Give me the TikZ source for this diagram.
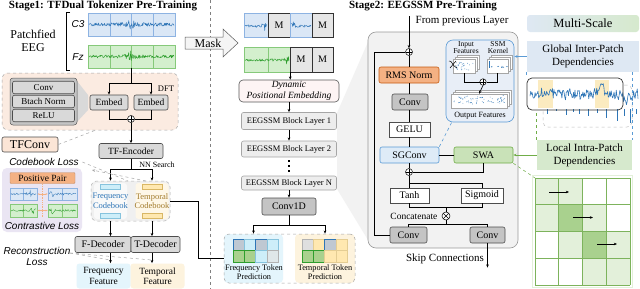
\documentclass[tikz,border=0pt]{standalone}
\usepackage{fontspec}
\setmainfont{Liberation Serif}
\setsansfont{Liberation Sans}
\usetikzlibrary{arrows.meta,calc}
\newcommand\fsz[1]{\fontsize{#1}{#1}\selectfont}
\definecolor{c3fill}{HTML}{DAE7F6}
\definecolor{c3line}{HTML}{2E75B6}
\definecolor{c3bord}{HTML}{8DB3E2}
\definecolor{fzfill}{HTML}{D3EFCD}
\definecolor{fzline}{HTML}{2E9E2E}
\definecolor{fzbord}{HTML}{86C97A}
\definecolor{peach}{HTML}{FBEBE1}
\definecolor{boxgray}{HTML}{D9D9D9}
\definecolor{boxdark}{HTML}{4D4D4D}
\definecolor{grpgray}{HTML}{C4C4C4}
\definecolor{lav}{HTML}{EAE5F3}
\definecolor{orng}{HTML}{F4B183}
\definecolor{orngb}{HTML}{D9804A}
\definecolor{ffeat}{HTML}{E4F5FC}
\definecolor{tfeat}{HTML}{FDF3DE}
\definecolor{fcode}{HTML}{2E75B6}
\definecolor{tcode}{HTML}{A27B2C}
\definecolor{fbar}{HTML}{CDEEF9}
\definecolor{fbarb}{HTML}{86C3DD}
\definecolor{tbar}{HTML}{FFE8B0}
\definecolor{tbarb}{HTML}{D9B765}
\definecolor{layer}{HTML}{EDEDED}
\definecolor{layerb}{HTML}{A6A6A6}
\definecolor{blk}{HTML}{F2F2F2}
\definecolor{blkb}{HTML}{9A9A9A}
\definecolor{sgc}{HTML}{DEEBF7}
\definecolor{sgcb}{HTML}{5B9BD5}
\definecolor{swa}{HTML}{C9E2B8}
\definecolor{swab}{HTML}{70AD47}
\definecolor{ssmreg}{HTML}{E8EEF7}
\definecolor{glob}{HTML}{DEE8F3}
\definecolor{loc}{HTML}{D6E9CD}
\definecolor{gl}{HTML}{E3F0DA}
\definecolor{gm}{HTML}{A9D18E}
\definecolor{gridb}{HTML}{7DB35C}
\definecolor{hl}{HTML}{FBEBC0}
\definecolor{dpe}{HTML}{FDF4F4}
\definecolor{tfconv}{HTML}{FBE5D6}
\definecolor{mgray}{HTML}{E6E6E6}
\definecolor{rmsb}{HTML}{C55A11}
\tikzset{
  arr/.style={-{Stealth[length=3.2pt,width=2.6pt]}},
  gbox/.style={draw=boxdark, fill=boxgray, rounded corners=2pt, inner sep=0pt, line width=0.6pt, font=\fsz{9.5}},
  dbox/.style={draw=boxdark, fill=grpgray, rounded corners=2pt, inner sep=0pt, line width=0.6pt, font=\fsz{9.5}},
  wbox/.style={draw=boxdark, fill=white, inner sep=0pt, line width=0.6pt, font=\fsz{10}},
  lbox/.style={draw=layerb, fill=layer, rounded corners=2pt, inner sep=0pt, line width=0.6pt, font=\fsz{8.5}},
  sigb/.style 2 args={draw=#2, fill=#1, inner sep=0pt, line width=0.5pt},
  mbox/.style={draw=black!80, fill=mgray, inner sep=0pt, line width=0.5pt, font=\fsz{10}},
  opl/.style={circle, draw, fill=white, minimum size=7pt, inner sep=0pt, line width=0.5pt,
    path picture={\draw[line width=0.5pt] (path picture bounding box.north) -- (path picture bounding box.south) (path picture bounding box.west) -- (path picture bounding box.east);}},
  otm/.style={circle, draw, fill=white, minimum size=8pt, inner sep=0pt, line width=0.5pt,
    path picture={\draw[line width=0.5pt] (path picture bounding box.north west) -- (path picture bounding box.south east) (path picture bounding box.north east) -- (path picture bounding box.south west);}},
  sit/.style={font=\sffamily\itshape\fsz{10}},
  minib/.style={draw=gray!70, fill=white, inner sep=0pt, line width=0.4pt},
  wave/.style={line width=0.45pt, line join=round},
}
\begin{document}
\begin{tikzpicture}[x=1pt,y=-1pt,line width=0.6pt]
\useasboundingbox (0,0) rectangle (640,289);
\fill[white] (0,0) rectangle (640,289);
\pgfmathsetseed{11}

% ===== divider and titles
\draw[gray, dashed, line width=0.5pt] (210,0) -- (210,289);
\node[font=\bfseries\fsz{11}] (t1) at (103,6) {Stage1: TFDual Tokenizer Pre-Training};
\node[font=\bfseries\fsz{11}] (t2) at (423,6) {Stage2: EEGSSM Pre-Training};

% ===== Stage 1 : inputs
\node[font=\fsz{12}, align=center] (pe) at (33,41) {Patchfied\\[1pt]EEG};
\draw[line width=0.5pt] (70,12) -- (66,12) -- (66,70) -- (70,70);
\node[sit] (c3l) at (78,24) {C3};
\node[sit] (fzl) at (78,57) {Fz};
\node[sigb={c3fill}{c3bord}, minimum width=87pt, minimum height=23pt] (c3) at (131.5,24.5) {};
\node[sigb={fzfill}{fzbord}, minimum width=87pt, minimum height=23pt] (fz) at (131.5,56.5) {};
\foreach \xx in {110,131.5,153} {\draw[c3bord,line width=0.5pt] (\xx,13) -- (\xx,36); \draw[fzbord,line width=0.5pt] (\xx,45) -- (\xx,68);}
\draw[c3line,wave] plot[domain=89:174,samples=170] (\x,{24.5+(1.7+5/(1+(\x-131)*(\x-131)/5))*rand});
\draw[fzline,wave] plot[domain=89:174,samples=170] (\x,{56.5+(1.5+5/(1+(\x-131)*(\x-131)/5))*rand});

% ===== TFConv region
\node[draw=gray!70, dashed, fill=peach, rounded corners=6pt, minimum width=176pt, minimum height=57pt, inner sep=0pt, line width=0.5pt] (tfr) at (90,101.5) {};
\fill[gray!30] (77,81) -- (88,95) -- (88,110) -- (77,122) -- cycle;
\node[draw=gray!70!black, fill=grpgray, rounded corners=3pt, minimum width=67pt, minimum height=47pt, inner sep=0pt, line width=0.5pt] (grp) at (43.5,101.5) {};
\node[gbox, minimum width=62pt, minimum height=12.5pt, font=\fsz{9}] (cv0) at (43.5,87.5) {Conv};
\node[gbox, minimum width=62pt, minimum height=12.5pt, font=\fsz{9}] (bn0) at (43.5,101.5) {Btach Norm};
\node[gbox, minimum width=62pt, minimum height=12.5pt, font=\fsz{9}] (rl0) at (43.5,115.5) {ReLU};
\node[gbox, minimum width=38pt, minimum height=15pt] (emb1) at (109,102.5) {Embed};
\node[gbox, minimum width=34pt, minimum height=15pt] (emb2) at (151,102.5) {Embed};
\draw (fz.south) -- ++(0,15) coordinate (s1);
\draw[arr] (s1) -| (emb1.north);
\draw[arr] (s1) -| (emb2.north);
\node[font=\fsz{8.5}] (dft) at (166,88.5) {DFT};
\node[opl] (op1) at (131,119) {};
\draw (emb1.south) |- (op1.west);
\draw (emb2.south) |- (op1.east);
\node[gbox, minimum width=64pt, minimum height=15pt] (tfe) at (131,151) {TF-Encoder};
\draw[arr] (op1.south) -- (tfe.north);
\node[draw=boxdark, fill=tfconv, rounded corners=2pt, minimum width=56pt, minimum height=15pt, inner sep=0pt, font=\fsz{12}] (tfcl) at (30,144.5) {TFConv};
\draw[gray!70, dashed, line width=0.5pt] (tfcl.east) -- (96,130);

% ===== codebook
\node[sit] (cbl) at (44,162) {Codebook Loss};
\node[font=\fsz{8}] (nn) at (157,165) {NN Search};
\node[draw=gray!60, dashed, fill=gray!12, rounded corners=6pt, minimum width=79pt, minimum height=40pt, inner sep=0pt, line width=0.5pt] (cbo) at (130.5,201) {};
\node[fill=gray!5, rounded corners=3pt, minimum width=33pt, minimum height=36pt, inner sep=0pt] (fcol) at (110.5,201) {};
\node[fill=tfeat!70, rounded corners=3pt, minimum width=33pt, minimum height=36pt, inner sep=0pt] (tcol) at (152,201) {};
\node[draw=fbarb, fill=fbar, minimum width=20pt, minimum height=5pt, inner sep=0pt, line width=0.4pt] (fb1) at (110.5,187) {};
\node[draw=fbarb, fill=fbar, minimum width=20pt, minimum height=5pt, inner sep=0pt, line width=0.4pt] (fb2) at (110.5,215.5) {};
\node[draw=tbarb, fill=tbar, minimum width=20pt, minimum height=5pt, inner sep=0pt, line width=0.4pt] (tb1) at (152,187) {};
\node[draw=tbarb, fill=tbar, minimum width=20pt, minimum height=5pt, inner sep=0pt, line width=0.4pt] (tb2) at (152,215.5) {};
\node[text=fcode, align=center, font=\fsz{8.5}] (fct) at (110.5,201) {Frequency\\[1pt]Codebook};
\node[text=tcode, align=center, font=\fsz{8.5}] (tct) at (152,201) {Temporal\\[1pt]Codebook};
\draw (tfe.south) -- ++(0,10) coordinate (s2);
\draw[arr] (s2) -| (fcol.north |- cbo.north);
\draw[arr] (s2) -| (tcol.north |- cbo.north);
\draw[gray!70, dashed, line width=0.5pt] (cbl.east) -- (128,181);
\draw[gray!70, dashed, line width=0.5pt, arr] (146,181) -- (92,170);

% ===== contrastive
\node[fill=lav, rounded corners=5pt, minimum width=80pt, minimum height=64pt, inner sep=0pt] (lavr) at (42,200) {};
\node[draw=orng!80!black, fill=orng, rounded corners=1pt, minimum width=65pt, minimum height=11pt, inner sep=0pt, line width=0.4pt, font=\fsz{9.5}] (pp) at (42.5,178) {Positive Pair};
\node[sigb={c3fill}{c3bord}, minimum width=27pt, minimum height=12pt] (bl1) at (23.5,194) {};
\node[sigb={c3fill}{c3bord}, minimum width=29pt, minimum height=12pt] (bl2) at (62.5,194) {};
\node[sigb={fzfill}{fzbord}, minimum width=27pt, minimum height=13pt] (gr1) at (23.5,210.5) {};
\node[sigb={fzfill}{fzbord}, minimum width=29pt, minimum height=13pt] (gr2) at (62.5,210.5) {};
\draw[c3bord,line width=0.4pt] (23.5,188) -- (23.5,200) (62.5,188) -- (62.5,200);
\draw[fzbord,line width=0.4pt] (23.5,204) -- (23.5,217) (62.5,204) -- (62.5,217);
\draw[c3line,line width=0.35pt] plot[domain=11:36,samples=40] (\x,{194+(0.9+2.5/(1+(\x-30)*(\x-30)/3))*rand});
\draw[c3line,line width=0.35pt] plot[domain=49:76,samples=40] (\x,{194+(0.9+2.5/(1+(\x-52)*(\x-52)/3))*rand});
\draw[fzline,line width=0.35pt] plot[domain=11:36,samples=40] (\x,{210.5+(0.9+2.5/(1+(\x-33)*(\x-33)/3))*rand});
\draw[fzline,line width=0.35pt] plot[domain=49:76,samples=40] (\x,{210.5+(0.9+3/(1+(\x-53)*(\x-53)/3))*rand});
\draw[orng, densely dotted, line width=0.8pt] (42,184) -- (42,218);
\draw[orng, line width=0.6pt, {Stealth[length=2.2pt]}-{Stealth[length=2.2pt]}] (bl1.east) -- (bl2.west);
\draw[orng, line width=0.6pt, {Stealth[length=2.2pt]}-{Stealth[length=2.2pt]}] (gr1.east) -- (gr2.west);
\node[sit] (ctl) at (42,226) {Contrastive Loss};

% ===== decoders
\node[gbox, minimum width=56pt, minimum height=16pt, font=\fsz{10}] (fdec) at (103,244.5) {F-Decoder};
\node[gbox, minimum width=49pt, minimum height=16pt, font=\fsz{10}] (tdec) at (155.5,244.5) {T-Decoder};
\draw[arr] (fcol.south |- cbo.south) -- (fcol.south |- fdec.north);
\draw[arr] (tcol.south |- cbo.south) -- (tcol.south |- tdec.north);
\node[fill=ffeat, rounded corners=3pt, minimum width=54pt, minimum height=25pt, inner sep=0pt, align=center, font=\fsz{9.5}] (ffe) at (103.5,276) {Frequency\\[1pt]Feature};
\node[fill=tfeat, rounded corners=3pt, minimum width=54pt, minimum height=25pt, inner sep=0pt, align=center, font=\fsz{9.5}] (tfe2) at (157.5,276) {Temporal\\[1pt]Feature};
\draw[arr] (fcol.south |- fdec.south) -- (fcol.south |- ffe.north);
\draw[arr] (tcol.south |- tdec.south) -- (tcol.south |- tfe2.north);
\node[sit, align=center] (rec) at (37,256) {Reconstruction\\[1pt]Loss};
\draw[gray!70, dashed, line width=0.5pt] (70,253) -- (110.5,260);
\draw[gray!70, dashed, line width=0.5pt] (70,253) -- (152,260);

% ===== Stage 2 left column
\draw[fill=gray!8, draw=gray!70!black, line width=0.5pt] (185,37) -- (223,37) -- (223,29) -- (238,43) -- (223,57) -- (223,49) -- (185,49) -- cycle;
\node[font=\fsz{12}] (mask) at (208,43) {Mask};

\node[sigb={c3fill}{c3bord}, minimum width=24pt, minimum height=24pt] (p11) at (256,25) {};
\node[mbox, minimum width=22pt, minimum height=24pt] (p12) at (279,25) {M};
\node[sigb={c3fill}{c3bord}, minimum width=22pt, minimum height=24pt] (p13) at (301,25) {};
\node[mbox, minimum width=21pt, minimum height=24pt] (p14) at (322.5,25) {M};
\node[sigb={fzfill}{fzbord}, minimum width=24pt, minimum height=25pt] (p21) at (256,59.5) {};
\node[sigb={fzfill}{fzbord}, minimum width=22pt, minimum height=25pt] (p22) at (279,59.5) {};
\node[mbox, minimum width=22pt, minimum height=25pt] (p23) at (301,59.5) {M};
\node[mbox, minimum width=21pt, minimum height=25pt] (p24) at (322.5,59.5) {M};
\draw[c3line,wave] plot[domain=245:267,samples=40] (\x,{26+(1.2+4/(1+(\x-264)*(\x-264)/3))*rand});
\draw[c3line,wave] plot[domain=291:311,samples=36] (\x,{26+(1.2+4/(1+(\x-293)*(\x-293)/3))*rand});
\draw[fzline,wave] plot[domain=245:289,samples=75] (\x,{60+(1.2+4/(1+(\x-287)*(\x-287)/3))*rand});

\node[draw=gray!70!black, fill=dpe, rounded corners=4pt, minimum width=100pt, minimum height=22pt, inner sep=0pt, align=center, font=\itshape\fsz{9.5}] (dpe) at (289,91) {Dynamic\\[1pt]Positional Embedding};
\draw[arr] (p22.south east) -- (p22.south east |- dpe.north);

\fill[gray!10] (337,113) -- (368,42) -- (368,240) -- (337,189) -- cycle;
\node[lbox, minimum width=95pt, minimum height=17pt] (l1) at (289,121) {EEGSSM Block Layer 1};
\node[lbox, minimum width=95pt, minimum height=16pt] (l2) at (289,149) {EEGSSM Block Layer 2};
\node[lbox, minimum width=95pt, minimum height=14pt] (ln) at (289,183) {EEGSSM Block Layer N};
\draw[arr] (dpe.south) -- (l1.north);
\draw[arr] (l1.south) -- (l2.north);
\foreach \yy in {160,165,170} \fill (288,\yy) rectangle (290.2,\yy+2.2);
\node[dbox, minimum width=54pt, minimum height=17pt, font=\fsz{10}] (c1d) at (289,206.5) {Conv1D};
\draw[arr] (ln.south) -- (c1d.north);

% token prediction
\node[fill=ffeat, rounded corners=4pt, minimum width=59pt, minimum height=49pt, inner sep=0pt] (tpf) at (253.5,258.5) {};
\node[fill=tfeat, rounded corners=4pt, minimum width=60pt, minimum height=49pt, inner sep=0pt] (tpt) at (325,258.5) {};
\node[draw=gray!70, dashed, rounded corners=5pt, minimum width=131pt, minimum height=49pt, inner sep=0pt, line width=0.5pt] (tp) at (289.5,258.5) {};
\draw (c1d.south) -- ++(0,10) coordinate (s3);
\draw[arr] (s3) -| (tpf.north);
\draw[arr] (s3) -| (tpt.north);
\foreach \i/\f/\d in {0/c3fill!70!gray/c3line, 1/fbar/fbarb, 2/c3fill!70!gray/c3line, 3/fbar/fbarb}
  \filldraw[fill=\f, draw=\d, line width=0.5pt] (233+\i*11.25,239) rectangle ++(11.25,11.5);
\foreach \i/\f/\d in {0/gm/fzline, 1/gm/fzline, 2/fbar/fbarb, 3/fbar!60!gray!40/gray!60}
  \filldraw[fill=\f, draw=\d, line width=0.5pt] (233+\i*11.25,250.5) rectangle ++(11.25,11.5);
\foreach \i/\f/\d in {0/gray!25/gray!60, 1/tbar/tbarb!70, 2/c3fill!70!gray/c3line, 3/tbar/tbarb!70}
  \filldraw[fill=\f, draw=\d, line width=0.5pt] (302+\i*11.25,239) rectangle ++(11.25,11.5);
\foreach \i/\f/\d in {0/gm/fzline, 1/gm/fzline, 2/tbar/tbarb!70, 3/tbar/tbarb!70}
  \filldraw[fill=\f, draw=\d, line width=0.5pt] (302+\i*11.25,250.5) rectangle ++(11.25,11.5);
\node[align=center, font=\fsz{8.3}] (tpft) at (254,272) {Frequency Token\\[1pt]Prediction};
\node[align=center, font=\fsz{8.3}] (tptt) at (325,272) {Temporal Token\\[1pt]Prediction};
\draw (cbo.east) -- (198,201) -- (198,258.5) -- (tp.west);

% ===== EEGSSM block
\node[draw=blkb, fill=blk, rounded corners=8pt, minimum width=150pt, minimum height=216pt, inner sep=0pt, line width=0.6pt] (blkn) at (443,140) {};
\node[anchor=west, font=\fsz{11}] (fpl) at (412,21) {From previous Layer};
\coordinate (fpt) at (409,16);
\node[opl] (opA) at (409,52) {};
\draw[arr] (fpt) -- (opA.north);
\node[draw=rmsb, fill=orng, rounded corners=2pt, minimum width=60pt, minimum height=16pt, inner sep=0pt, font=\fsz{10}] (rms) at (409,75) {RMS Norm};
\node[dbox, minimum width=36pt, minimum height=16pt, font=\fsz{10}] (cvA) at (410,102) {Conv};
\node[wbox, minimum width=41pt, minimum height=15pt] (gelu) at (409.5,129.5) {GELU};
\node[draw=sgcb, fill=sgc, rounded corners=2pt, minimum width=59pt, minimum height=16pt, inner sep=0pt, font=\fsz{10}] (sgcn) at (409.5,155) {SGConv};
\node[draw=swab, fill=swa, rounded corners=2pt, minimum width=59pt, minimum height=16pt, inner sep=0pt, font=\fsz{10}] (swan) at (483.5,155) {SWA};
\node[opl] (opB) at (409,172) {};
\node[wbox, minimum width=39pt, minimum height=15pt] (tanh) at (409.5,195.5) {Tanh};
\node[wbox, minimum width=42pt, minimum height=15pt] (sigm) at (482,195.5) {Sigmoid};
\node[otm] (otx) at (446,216) {};
\node[anchor=east, font=\fsz{9.5}] (cat) at (441,216) {Concatenate};
\node[dbox, minimum width=37pt, minimum height=16pt, font=\fsz{10}] (cvB) at (408.5,235) {Conv};
\node[dbox, minimum width=35pt, minimum height=16pt, font=\fsz{10}] (cvC) at (487.5,235) {Conv};
\node[font=\fsz{11}] (skip) at (445,259) {Skip Connections};
\draw (opA.south) -- (rms.north);
\draw (rms.south) -- (rms.south |- cvA.north);
\draw (cvA.south -| gelu.north) -- (gelu.north);
\draw (gelu.south) -- (gelu.south |- sgcn.north);
\draw (sgcn.east) -- (swan.west);
\draw (sgcn.south -| opB.north) -- (opB.north);
\draw (swan.south) |- (opB.east);
\draw (opB.south) -- (opB.south |- tanh.north);
\draw (opB.south |- 0,183) -| (sigm.north);
\draw (tanh.south) -- ++(0,4) -| (sigm.south);
\draw (otx.north) -- (otx.north |- 0,207.5);
\draw (otx.south) -- (otx.south |- 0,224);
\draw (cvB.north) |- (cvC.north |- 0,224) -- (cvC.north);
\draw (cvB.west) -- (374,235) -- (374,52) -- (opA.west);
\draw[arr] (cvC.south) -- (cvC.south |- skip.south);

% SSM detail
\node[draw=sgcb, fill=ssmreg, rounded corners=7pt, minimum width=68pt, minimum height=82pt, inner sep=0pt, line width=0.6pt] (ssm) at (480,81) {};
\node[align=center, font=\fsz{7.5}, inner sep=0pt] (inlab) at (466,47.5) {Input\\Features};
\node[align=center, font=\fsz{7.5}, inner sep=0pt] (kllab) at (498,47.5) {SSM\\Kernel};
\draw[minib] (457,55) rectangle (479,69);
\draw[minib] (455,57) rectangle (477,71);
\node[minib, minimum width=22pt, minimum height=14pt] (inF) at (464,66) {};
\draw[minib] (491,55) rectangle (512,69);
\draw[minib] (489,57) rectangle (510,71);
\node[minib, minimum width=21pt, minimum height=14pt] (ker) at (497.5,66) {};
\draw[minib] (455,90) rectangle (511,104);
\draw[minib] (453,92) rectangle (509,106);
\node[minib, minimum width=56pt, minimum height=14pt] (outF) at (479,101) {};
\foreach \i in {1,...,30} \fill[c3line] ({455+18*rnd},{66+4*rand}) circle (0.4);
\foreach \i in {1,...,14} \fill[c3line] ({490+19*rnd},{67+0.8*rand}) circle (0.4);
\draw[c3line, line width=0.5pt] (489.5,61) -- (489.5,68);
\foreach \i in {1,...,70} \fill[c3line] ({453+52*rnd},{101+3.5*rand-2*(\i/70)}) circle (0.4);
\draw[line width=0.5pt] (449,61) .. controls (452,60) and (452,66) .. (457,68);
\draw[line width=0.5pt] (450,68) -- (456,61);
\node[opl, minimum size=6.5pt] (ssmop) at (483,82) {};
\draw (inF.south) |- (ssmop.west);
\draw (ker.south) |- (ssmop.east);
\draw[arr] (ssmop.south) -- (outF.north);
\node[font=\fsz{8}] (outlab) at (480,116) {Output Features};
\draw[sgcb, dashed, line width=0.6pt] (sgcn.north east) -- ($(ssm.south west)+(6,0)$);

% ===== Multi-scale side
\node[rounded corners=3pt, left color=glob, right color=loc, minimum width=112pt, minimum height=17pt, inner sep=0pt, font=\fsz{12.5}] (ms) at (583,23.5) {Multi-Scale};
\node[fill=glob, minimum width=112pt, minimum height=31pt, inner sep=0pt, align=center, font=\fsz{11}] (gb) at (583,56.5) {Global Inter-Patch\\[2pt]Dependencies};
\draw[sgcb, arr] (gb.west) -- (ssm.east |- gb.west);
\node[draw=gray!50, dashed, rounded corners=5pt, minimum width=89pt, minimum height=42pt, inner sep=0pt, line width=0.5pt] (sigbk) at (587.5,106) {};
\node[fill=white, rounded corners=5pt, minimum width=96pt, minimum height=32pt, inner sep=0pt] (sigbox) at (575,94) {};
\fill[hl] (538,80) rectangle (553,108);
\fill[hl] (595,80) rectangle (609,108);
\draw[c3line, line width=0.6pt, line join=round] plot[domain=530:638,samples=150] (\x,{94+(3.5+3*rnd)*rand-11/(1+(\x-601)*(\x-601)/6)+7/(1+(\x-626)*(\x-626)/5)});
\foreach \xx/\yy in {547/114,556/111,566/115,573/112,579/114,588/116,597/113,606/118,617/121,624/116,630/123,636/114}
  \draw[c3line, line width=0.5pt] (\xx,109) -- (\xx,\yy);
\node[draw=black!80, rounded corners=5pt, minimum width=96pt, minimum height=32pt, inner sep=0pt, line width=0.7pt] (sigfr) at (575,94) {};
\draw[sgcb, dashed, line width=0.5pt] (gb.south west) -- (sigbox.north west);

\node[fill=loc, minimum width=95pt, minimum height=30pt, inner sep=0pt, align=center, font=\fsz{11}] (lb) at (584.5,155) {Local Intra-Patch\\[2pt]Dependencies};
\draw[sgcb, dashed, line width=0.5pt] (lb.north east |- gb.south) -- (lb.north east);
\draw[swab, dashed, line width=0.5pt] (lb.north west) -- ++(0,-28);
\draw[swab, arr] (lb.west) -- (swan.east |- lb.west);

% grid
\coordinate (gnw) at (535,178);
\draw[gl, line width=1.5pt] (532.5,175.5) rectangle (632.5,287.5);
\foreach \r/\row in {0/{gl,gl,white,white},1/{gl,gm,gl,white},2/{white,gl,gm,gl},3/{white,white,gl,gl}} {
  \foreach \c [count=\ci from 0] in \row {
    \fill[\c] (535+\ci*23.75,178+\r*26.75) rectangle ++(23.75,26.75);
  }
}
\foreach \i in {0,...,4} {
  \draw[gridb, line width=0.7pt] (535+\i*23.75,178) -- (535+\i*23.75,285);
  \draw[gridb, line width=0.7pt] (535,178+\i*26.75) -- (630,178+\i*26.75);
}
\draw[arr, line width=0.6pt] (549,192) -- (569,192);
\draw[arr, line width=0.6pt] (573,217.5) -- (593,217.5);
\draw[arr, line width=0.6pt] (597,244) -- (617,244);
\draw[swab, dashed, line width=0.5pt] (swan.south east) -- (gnw);
\end{tikzpicture}
\end{document}
